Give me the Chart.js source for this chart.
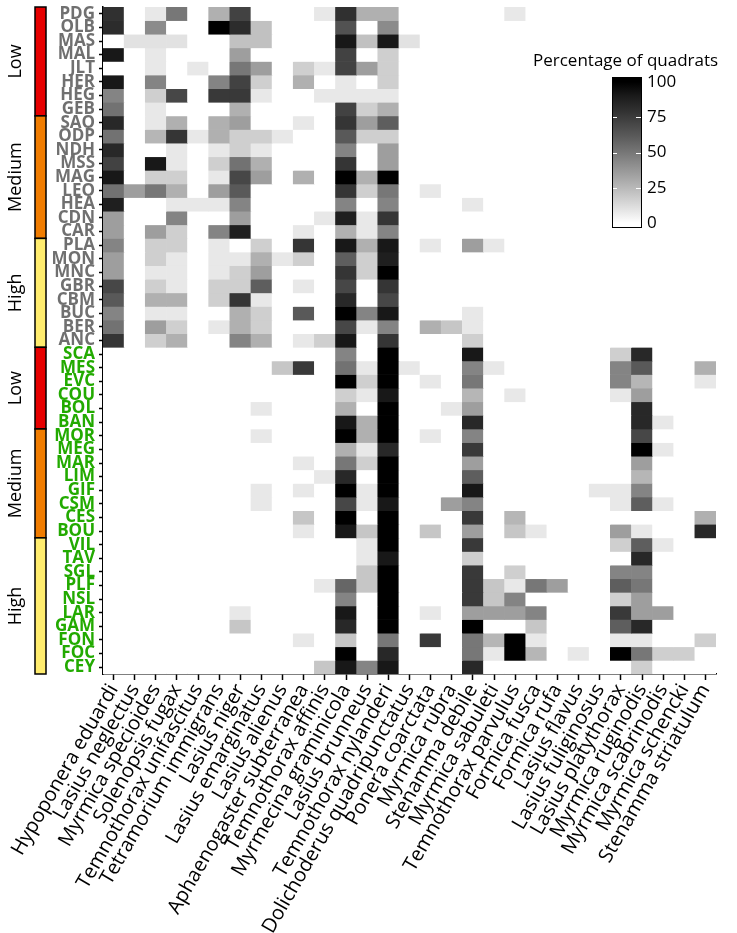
<!DOCTYPE html>
<html>
<head>
<meta charset="utf-8">
<script src="https://cdn.jsdelivr.net/npm/chart.js@4.4.1/dist/chart.umd.min.js"></script>
<style>
  html, body { margin: 0; padding: 0; background: #fff; }
  #wrap { width: 737px; height: 933px; position: relative; }
</style>
</head>
<body>
<div id="wrap"><canvas id="heatmap"></canvas></div>
<script>
// ========================================
// Data
// ========================================

const species = [
    'Hypoponera eduardi', 'Lasius neglectus', 'Myrmica specioides', 'Solenopsis fugax',
    'Temnothorax unifascitus', 'Tetramorium immigrans', 'Lasius niger', 'Lasius emarginatus',
    'Lasius alienus', 'Aphaenogaster subterranea', 'Temnothorax affinis', 'Myrmecina graminicola',
    'Lasius brunneus', 'Temnothorax nylanderi', 'Dolichoderus quadripunctatus', 'Ponera coarctata',
    'Myrmica rubra', 'Stenamma debile', 'Myrmica sabuleti', 'Temnothorax parvulus',
    'Formica fusca', 'Formica rufa', 'Lasius flavus', 'Lasius fuliginosus',
    'Lasius platythorax', 'Myrmica ruginodis', 'Myrmica scabrinodis', 'Myrmica schencki',
    'Stenamma striatulum'
];

// sites labelled in grey, then sites labelled in green
const greySites = ['PDG', 'OLB', 'MAS', 'MAL', 'JLT', 'HER', 'HEG', 'GEB', 'SAO', 'ODP', 'NDH', 'MSS', 'MAG',
    'LEO', 'HEA', 'CDN', 'CAR', 'PLA', 'MON', 'MNC', 'GBR', 'CBM', 'BUC', 'BER', 'ANC'];
const greenSites = ['SCA', 'MES', 'EVC', 'COU', 'BOL', 'BAN', 'MOR', 'MEG', 'MAR', 'LIM', 'GIF', 'CSM', 'CES',
    'BOU', 'VIL', 'TAV', 'SGL', 'PLF', 'NSL', 'LAR', 'GAM', 'FON', 'FOC', 'CEY'];

// level bands on the left (number of sites in each band)
const levelNames = ['Low', 'Medium', 'High'];
const greyLevelSizes = [8, 9, 8];
const greenLevelSizes = [6, 8, 10];

// legend ticks
const legendTicks = [0, 25, 50, 75, 100];

// percentage of quadrats, one row per site, one column per species
const values = [
    [80, 0, 8, 50, 0, 28, 72, 0, 0, 0, 8, 80, 28, 28, 0, 0, 0, 0, 0, 8, 0, 0, 0, 0, 0, 0, 0, 0, 0],    // PDG
    [82, 0, 42, 0, 0, 100, 82, 22, 0, 0, 0, 65, 0, 42, 0, 0, 0, 0, 0, 0, 0, 0, 0, 0, 0, 0, 0, 0, 0],   // OLB
    [0, 10, 10, 10, 0, 0, 22, 22, 0, 0, 0, 92, 22, 92, 10, 0, 0, 0, 0, 0, 0, 0, 0, 0, 0, 0, 0, 0, 0],  // MAS
    [92, 0, 8, 0, 0, 0, 35, 0, 0, 0, 0, 72, 0, 17, 0, 0, 0, 0, 0, 0, 0, 0, 0, 0, 0, 0, 0, 0, 0],       // MAL
    [0, 0, 8, 0, 8, 0, 50, 35, 0, 17, 8, 72, 35, 17, 0, 0, 0, 0, 0, 0, 0, 0, 0, 0, 0, 0, 0, 0, 0],     // JLT
    [92, 0, 45, 0, 0, 45, 72, 17, 0, 28, 0, 8, 0, 17, 0, 0, 0, 0, 0, 0, 0, 0, 0, 0, 0, 0, 0, 0, 0],    // HER
    [45, 0, 17, 70, 0, 76, 76, 8, 0, 0, 8, 8, 8, 8, 0, 0, 0, 0, 0, 0, 0, 0, 0, 0, 0, 0, 0, 0, 0],      // HEG
    [52, 0, 8, 0, 0, 0, 28, 0, 0, 0, 0, 72, 17, 28, 0, 0, 0, 0, 0, 0, 0, 0, 0, 0, 0, 0, 0, 0, 0],      // GEB
    [84, 0, 8, 28, 0, 28, 35, 0, 0, 8, 0, 78, 35, 60, 0, 0, 0, 0, 0, 0, 0, 0, 0, 0, 0, 0, 0, 0, 0],    // SAO
    [52, 0, 26, 78, 8, 28, 17, 17, 8, 0, 0, 62, 17, 17, 0, 0, 0, 0, 0, 0, 0, 0, 0, 0, 0, 0, 0, 0, 0],  // ODP
    [84, 0, 0, 8, 0, 8, 17, 8, 0, 0, 0, 45, 0, 35, 0, 0, 0, 0, 0, 0, 0, 0, 0, 0, 0, 0, 0, 0, 0],       // NDH
    [72, 0, 92, 8, 0, 17, 52, 28, 0, 0, 0, 78, 0, 35, 0, 0, 0, 0, 0, 0, 0, 0, 0, 0, 0, 0, 0, 0, 0],    // MSS
    [92, 0, 17, 17, 0, 8, 70, 35, 0, 28, 0, 100, 28, 100, 0, 0, 0, 0, 0, 0, 0, 0, 0, 0, 0, 0, 0, 0, 0], // MAG
    [52, 35, 50, 28, 0, 35, 62, 0, 0, 0, 0, 78, 17, 50, 0, 8, 0, 0, 0, 0, 0, 0, 0, 0, 0, 0, 0, 0, 0],  // LEO
    [88, 0, 0, 8, 8, 8, 45, 0, 0, 0, 0, 45, 0, 45, 0, 0, 0, 8, 0, 0, 0, 0, 0, 0, 0, 0, 0, 0, 0],       // HEA
    [35, 0, 0, 45, 0, 0, 35, 0, 0, 0, 8, 88, 8, 78, 0, 0, 0, 0, 0, 0, 0, 0, 0, 0, 0, 0, 0, 0, 0],      // CDN
    [35, 0, 35, 17, 0, 45, 88, 0, 0, 8, 0, 28, 8, 45, 0, 0, 0, 0, 0, 0, 0, 0, 0, 0, 0, 0, 0, 0, 0],    // CAR
    [45, 0, 17, 17, 0, 8, 0, 17, 0, 78, 0, 92, 28, 92, 0, 8, 0, 35, 8, 0, 0, 0, 0, 0, 0, 0, 0, 0, 0],  // PLA
    [35, 0, 17, 8, 0, 8, 8, 28, 8, 17, 0, 60, 17, 88, 0, 0, 0, 0, 0, 0, 0, 0, 0, 0, 0, 0, 0, 0, 0],    // MON
    [35, 0, 8, 8, 0, 8, 17, 35, 0, 0, 0, 78, 17, 100, 0, 0, 0, 0, 0, 0, 0, 0, 0, 0, 0, 0, 0, 0, 0],    // MNC
    [70, 0, 17, 8, 0, 17, 17, 60, 0, 8, 0, 70, 0, 78, 0, 0, 0, 0, 0, 0, 0, 0, 0, 0, 0, 0, 0, 0, 0],    // GBR
    [62, 0, 28, 28, 0, 17, 78, 8, 0, 0, 0, 84, 0, 70, 0, 0, 0, 0, 0, 0, 0, 0, 0, 0, 0, 0, 0, 0, 0],    // CBM
    [45, 0, 8, 8, 0, 0, 28, 17, 0, 62, 0, 100, 45, 92, 0, 0, 0, 8, 0, 0, 0, 0, 0, 0, 0, 0, 0, 0, 0],   // BUC
    [52, 0, 35, 17, 0, 8, 28, 17, 0, 0, 0, 70, 8, 45, 0, 28, 20, 8, 0, 0, 0, 0, 0, 0, 0, 0, 0, 0, 0],  // BER
    [78, 0, 17, 28, 0, 0, 45, 28, 0, 8, 17, 92, 0, 78, 0, 0, 0, 17, 0, 0, 0, 0, 0, 0, 0, 0, 0, 0, 0],  // ANC
    [0, 0, 0, 0, 0, 0, 0, 0, 0, 0, 0, 45, 0, 100, 0, 0, 0, 92, 0, 0, 0, 0, 0, 0, 17, 84, 0, 0, 0],     // SCA
    [0, 0, 0, 0, 0, 0, 0, 0, 20, 76, 0, 52, 8, 100, 8, 0, 0, 45, 8, 0, 0, 0, 0, 0, 45, 62, 0, 0, 28],  // MES
    [0, 0, 0, 0, 0, 0, 0, 0, 0, 0, 0, 100, 17, 100, 0, 8, 0, 50, 0, 0, 0, 0, 0, 0, 45, 26, 0, 0, 8],   // EVC
    [0, 0, 0, 0, 0, 0, 0, 0, 0, 0, 0, 17, 8, 92, 0, 0, 0, 26, 0, 8, 0, 0, 0, 0, 8, 35, 0, 0, 0],       // COU
    [0, 0, 0, 0, 0, 0, 0, 8, 0, 0, 0, 28, 0, 100, 0, 0, 8, 35, 0, 0, 0, 0, 0, 0, 0, 84, 0, 0, 0],      // BOL
    [0, 0, 0, 0, 0, 0, 0, 0, 0, 0, 0, 92, 28, 100, 0, 0, 0, 84, 0, 0, 0, 0, 0, 0, 0, 84, 8, 0, 0],     // BAN
    [0, 0, 0, 0, 0, 0, 0, 8, 0, 0, 0, 100, 28, 100, 0, 8, 0, 45, 0, 0, 0, 0, 0, 0, 0, 70, 0, 0, 0],    // MOR
    [0, 0, 0, 0, 0, 0, 0, 0, 0, 0, 0, 28, 8, 84, 0, 0, 0, 76, 0, 0, 0, 0, 0, 0, 0, 100, 8, 0, 0],      // MEG
    [0, 0, 0, 0, 0, 0, 0, 0, 0, 8, 0, 50, 17, 100, 0, 0, 0, 35, 0, 0, 0, 0, 0, 0, 0, 35, 0, 0, 0],     // MAR
    [0, 0, 0, 0, 0, 0, 0, 0, 0, 0, 8, 84, 0, 100, 0, 0, 0, 60, 0, 0, 0, 0, 0, 0, 0, 26, 0, 0, 0],      // LIM
    [0, 0, 0, 0, 0, 0, 0, 8, 0, 8, 0, 100, 8, 100, 0, 0, 0, 92, 0, 0, 0, 0, 0, 8, 8, 45, 0, 0, 0],     // GIF
    [0, 0, 0, 0, 0, 0, 0, 8, 0, 0, 0, 70, 8, 92, 0, 0, 35, 45, 0, 0, 0, 0, 0, 0, 8, 60, 8, 0, 0],      // CSM
    [0, 0, 0, 0, 0, 0, 0, 0, 0, 20, 0, 100, 0, 100, 0, 0, 0, 76, 0, 26, 0, 0, 0, 0, 0, 0, 0, 0, 28],   // CES
    [0, 0, 0, 0, 0, 0, 0, 0, 0, 8, 0, 92, 20, 100, 0, 20, 0, 35, 0, 20, 8, 0, 0, 0, 35, 8, 0, 0, 84],  // BOU
    [0, 0, 0, 0, 0, 0, 0, 0, 0, 0, 0, 0, 8, 100, 0, 0, 0, 76, 0, 0, 0, 0, 0, 0, 17, 60, 8, 0, 0],      // VIL
    [0, 0, 0, 0, 0, 0, 0, 0, 0, 0, 0, 0, 8, 92, 0, 0, 0, 17, 0, 0, 0, 0, 0, 0, 0, 84, 0, 0, 0],        // TAV
    [0, 0, 0, 0, 0, 0, 0, 0, 0, 0, 0, 0, 20, 100, 0, 0, 0, 76, 0, 17, 0, 0, 0, 0, 45, 45, 0, 0, 0],    // SGL
    [0, 0, 0, 0, 0, 0, 0, 0, 0, 0, 8, 57, 20, 100, 0, 0, 0, 76, 20, 8, 50, 35, 0, 0, 60, 50, 0, 0, 0], // PLF
    [0, 0, 0, 0, 0, 0, 0, 0, 0, 0, 0, 45, 0, 100, 0, 0, 0, 76, 20, 45, 0, 0, 0, 0, 17, 35, 0, 0, 0],   // NSL
    [0, 0, 0, 0, 0, 0, 8, 0, 0, 0, 0, 92, 0, 100, 0, 8, 0, 35, 35, 35, 45, 0, 0, 0, 76, 35, 35, 0, 0], // LAR
    [0, 0, 0, 0, 0, 0, 20, 0, 0, 0, 0, 84, 0, 100, 0, 0, 0, 100, 0, 0, 20, 0, 0, 0, 60, 84, 0, 0, 0],  // GAM
    [0, 0, 0, 0, 0, 0, 0, 0, 0, 8, 0, 20, 0, 50, 0, 76, 0, 50, 26, 100, 8, 0, 0, 0, 8, 8, 0, 0, 17],   // FON
    [0, 0, 0, 0, 0, 0, 0, 0, 0, 0, 0, 100, 0, 84, 0, 0, 0, 50, 8, 100, 26, 0, 8, 0, 100, 50, 17, 17, 0], // FOC
    [0, 0, 0, 0, 0, 0, 0, 0, 0, 0, 20, 92, 45, 92, 0, 0, 0, 84, 0, 0, 0, 0, 0, 0, 0, 17, 0, 0, 0]      // CEY
];

const sites = greySites.concat(greenSites);

// ========================================
// Colours
// ========================================

const GREY_LABEL = '#707070';
const GREEN_LABEL = '#22aa00';
const LEVEL_COLORS = ['#e60000', '#f07c00', '#ffec6e'];

// white -> black, interpolated on Lab lightness
function percentColor(v) {
    const L = 100 - v;
    const y = L > 8 ? Math.pow((L + 16) / 116, 3) : L / 903.3;
    const c = y <= 0.0031308 ? 12.92 * y : 1.055 * Math.pow(y, 1 / 2.4) - 0.055;
    const g = Math.round(Math.max(0, Math.min(1, c)) * 255);
    return 'rgb(' + g + ',' + g + ',' + g + ')';
}

// ========================================
// Side bands + colour legend (drawn after the cells)
// ========================================

const decorPlugin = {
    id: 'decor',
    afterDraw(chart) {
        const ctx = chart.ctx;
        const yScale = chart.scales.y;
        ctx.save();

        // level bands
        const blocks = [
            { start: 0, sizes: greyLevelSizes },
            { start: greySites.length, sizes: greenLevelSizes }
        ];
        blocks.forEach(block => {
            let row = block.start;
            block.sizes.forEach((size, k) => {
                const top = yScale.getPixelForValue(row - 0.5);
                const bottom = yScale.getPixelForValue(row + size - 0.5);
                ctx.fillStyle = LEVEL_COLORS[k];
                ctx.fillRect(35, top, 11, bottom - top);
                ctx.strokeStyle = '#000';
                ctx.lineWidth = 1.5;
                ctx.strokeRect(35, top, 11, bottom - top);

                ctx.save();
                ctx.translate(16, (top + bottom) / 2);
                ctx.rotate(-Math.PI / 2);
                ctx.fillStyle = '#000';
                ctx.font = '18px "Open Sans"';
                ctx.textAlign = 'center';
                ctx.textBaseline = 'middle';
                ctx.fillText(levelNames[k], 0, 0);
                ctx.restore();

                row += size;
            });
        });

        // colour legend
        const barX = 612, barW = 29;
        const y0 = 223, y100 = 82;
        const legendY = v => y0 + (y100 - y0) * v / 100;

        ctx.fillStyle = '#000';
        ctx.font = '17px "Open Sans"';
        ctx.textAlign = 'left';
        ctx.textBaseline = 'alphabetic';
        ctx.fillText('Percentage of quadrats', 533, 66);

        const grad = ctx.createLinearGradient(0, y0, 0, y100);
        for (let v = 0; v <= 100; v += 10) {
            grad.addColorStop(v / 100, percentColor(v));
        }
        ctx.fillStyle = grad;
        ctx.fillRect(barX, y100 - 5, barW, (y0 - y100) + 9);

        ctx.strokeStyle = '#fff';
        ctx.lineWidth = 1;
        legendTicks.forEach(v => {
            if (v === 0 || v === 100) return;
            const ty = Math.round(legendY(v)) + 0.5;
            ctx.beginPath();
            ctx.moveTo(barX, ty); ctx.lineTo(barX + 5, ty);
            ctx.moveTo(barX + barW - 5, ty); ctx.lineTo(barX + barW, ty);
            ctx.stroke();
        });

        ctx.strokeStyle = '#000';
        ctx.lineWidth = 1;
        ctx.strokeRect(barX + 0.5, y100 - 5 + 0.5, barW, (y0 - y100) + 9);

        ctx.fillStyle = '#000';
        ctx.font = '17px "Open Sans"';
        ctx.textBaseline = 'middle';
        legendTicks.forEach(v => {
            ctx.fillText(String(v), 647, legendY(v));
        });

        ctx.restore();
    }
};

// ========================================
// Chart
// ========================================

document.addEventListener('DOMContentLoaded', function() {
    // one floating-bar dataset per site, spanning its row
    const datasets = sites.map((site, i) => ({
        label: site,
        data: species.map(() => [i - 0.5, i + 0.5]),
        backgroundColor: values[i].map(percentColor),
        borderWidth: 0,
        grouped: false,
        barPercentage: 1,
        categoryPercentage: 1
    }));

    new Chart(document.getElementById('heatmap'), {
        type: 'bar',
        data: { labels: species, datasets: datasets },
        plugins: [decorPlugin],
        options: {
            responsive: true,
            maintainAspectRatio: false,
            animation: false,
            layout: { padding: { top: 7, right: 21, left: 0, bottom: 0 } },
            plugins: {
                legend: { display: false },
                tooltip: { enabled: false }
            },
            scales: {
                x: {
                    type: 'category',
                    offset: true,
                    grid: { offset: false, drawOnChartArea: false, color: '#000', tickLength: 6, tickWidth: 1.5 },
                    border: { color: '#000', width: 1.5 },
                    ticks: {
                        autoSkip: false,
                        minRotation: 60,
                        maxRotation: 60,
                        padding: 0,
                        color: '#000',
                        font: { family: 'Open Sans', size: 20 }
                    },
                    afterFit: function(scale) {
                        scale.height = 259;
                        scale.paddingLeft = 0;
                        scale.paddingRight = 0;
                    }
                },
                y: {
                    type: 'linear',
                    min: -0.5,
                    max: sites.length - 0.5,
                    reverse: true,
                    afterBuildTicks: function(scale) {
                        scale.ticks = sites.map((s, i) => ({ value: i }));
                    },
                    grid: { drawOnChartArea: false, color: '#000', tickLength: 4, tickWidth: 1.5 },
                    border: { color: '#000', width: 1.5 },
                    ticks: {
                        autoSkip: false,
                        padding: 4,
                        callback: v => sites[v],
                        color: c => (c.tick && c.tick.value < greySites.length) ? GREY_LABEL : GREEN_LABEL,
                        font: { family: 'Open Sans', weight: 'bold', size: 17, lineHeight: 1 }
                    },
                    afterFit: function(scale) {
                        scale.width = 103;
                        scale.paddingTop = 0;
                        scale.paddingBottom = 0;
                    }
                }
            }
        }
    });
});
</script>
</body>
</html>
